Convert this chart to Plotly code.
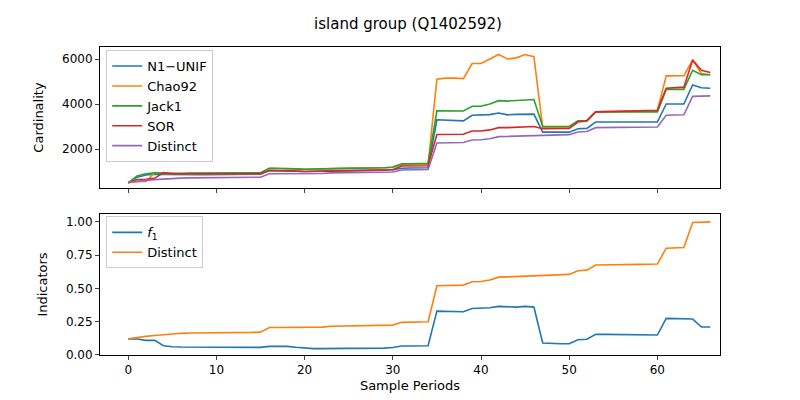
import plotly.graph_objects as go
from plotly.subplots import make_subplots

periods = list(range(67))

n1_unif = [500, 750, 850, 880, 870, 860, 860, 860, 860, 860, 860, 860, 860, 870, 870, 880,
           1050, 1050, 1050, 1020, 1000, 1000, 1000, 1030, 1040, 1040, 1050, 1050, 1060, 1070, 1080,
           1150, 1160, 1160, 1170, 3300, 3290, 3280, 3250, 3500, 3500, 3530, 3600, 3520, 3540, 3560, 3550,
           2750, 2750, 2750, 2750, 2900, 2920, 3200, 3200, 3200, 3200, 3200, 3200, 3200, 3200,
           4000, 4000, 4000, 4850, 4720, 4700]
chao92 = [500, 550, 560, 950, 920, 900, 900, 900, 900, 900, 900, 900, 900, 900, 910, 920,
          1150, 1150, 1150, 1120, 1100, 1100, 1100, 1120, 1130, 1140, 1150, 1150, 1160, 1170, 1180,
          1300, 1310, 1310, 1320, 5100, 5150, 5150, 5130, 5800, 5800, 6000, 6200, 6000, 6050, 6200, 6100,
          2950, 2950, 2950, 2960, 3250, 3260, 3650, 3650, 3660, 3670, 3680, 3690, 3700, 3700,
          5250, 5260, 5260, 5950, 5350, 5300]
jack1 = [500, 800, 900, 950, 920, 910, 920, 930, 930, 930, 930, 930, 930, 940, 940, 950,
         1150, 1150, 1150, 1120, 1100, 1100, 1100, 1130, 1140, 1140, 1150, 1150, 1160, 1170, 1200,
         1350, 1350, 1360, 1370, 3700, 3700, 3700, 3690, 3900, 3900, 4000, 4150, 4130, 4150, 4200, 4200,
         3000, 3000, 3000, 3000, 3250, 3260, 3650, 3650, 3650, 3650, 3650, 3650, 3650, 3650,
         4650, 4650, 4650, 5500, 5300, 5300]
sor = [500, 650, 660, 700, 950, 900, 900, 900, 900, 890, 890, 890, 890, 890, 900, 900,
       1050, 1050, 1050, 1020, 1000, 1000, 1000, 1010, 1020, 1030, 1040, 1050, 1060, 1070, 1080,
       1250, 1250, 1250, 1260, 2650, 2650, 2650, 2660, 2800, 2800, 2850, 2950, 2950, 2960, 3000, 3000,
       2900, 2900, 2900, 2910, 3200, 3250, 3650, 3660, 3670, 3680, 3690, 3700, 3710, 3720,
       4700, 4730, 4750, 5950, 5500, 5400]
distinct = [530, 580, 610, 640, 670, 700, 710, 720, 720, 720, 720, 725, 730, 735, 740, 750,
            900, 900, 900, 905, 910, 910, 915, 940, 945, 950, 955, 960, 965, 970, 980,
            1070, 1080, 1080, 1090, 2270, 2275, 2280, 2290, 2400, 2410, 2460, 2550, 2560, 2570, 2600, 2610,
            2620, 2630, 2630, 2640, 2760, 2780, 2950, 2950, 2955, 2960, 2965, 2970, 2975, 2980,
            3500, 3510, 3520, 4340, 4350, 4360]

f1 = [0.12, 0.12, 0.11, 0.11, 0.07, 0.062, 0.06, 0.06, 0.06, 0.059, 0.058, 0.058, 0.058, 0.058, 0.058, 0.057,
      0.065, 0.065, 0.065, 0.058, 0.052, 0.048, 0.048, 0.05, 0.05, 0.05, 0.05, 0.05, 0.051, 0.052, 0.056,
      0.068, 0.068, 0.068, 0.07, 0.33, 0.33, 0.328, 0.325, 0.35, 0.35, 0.355, 0.365, 0.36, 0.36, 0.365, 0.36,
      0.09, 0.085, 0.085, 0.085, 0.115, 0.118, 0.155, 0.155, 0.155, 0.155, 0.155, 0.155, 0.153, 0.15,
      0.275, 0.275, 0.27, 0.27, 0.21, 0.21]
distinct_ind = [d / distinct[-1] for d in distinct]

colors = ["#1f77b4", "#ff7f0e", "#2ca02c", "#d62728", "#9467bd"]

fig = make_subplots(rows=2, cols=1, shared_xaxes=True, vertical_spacing=0.084)

for name, ys, c in [("N1\u2212UNIF", n1_unif, colors[0]), ("Chao92", chao92, colors[1]),
                    ("Jack1", jack1, colors[2]), ("SOR", sor, colors[3]),
                    ("Distinct", distinct, colors[4])]:
    fig.add_trace(go.Scatter(x=periods, y=ys, name=name, mode="lines",
                             line=dict(color=c, width=1.6), legend="legend"), row=1, col=1)

fig.add_trace(go.Scatter(x=periods, y=f1, name="<i>f</i><sub>1</sub>", mode="lines",
                         line=dict(color=colors[0], width=1.6), legend="legend2"), row=2, col=1)
fig.add_trace(go.Scatter(x=periods, y=distinct_ind, name="Distinct", mode="lines",
                         line=dict(color=colors[1], width=1.6), legend="legend2"), row=2, col=1)

axis_style = dict(showline=True, mirror=True, linecolor="black", linewidth=1, ticks="outside",
                  ticklen=4, showgrid=False, zeroline=False, tickfont=dict(size=12))
fig.update_xaxes(range=[-3.2, 67.1], dtick=10, **axis_style)
fig.update_xaxes(title_text="Sample Periods", title_font=dict(size=13), title_standoff=4, row=2, col=1)
fig.update_yaxes(range=[267, 6533], tickvals=[2000, 4000, 6000], title_text="Cardinality",
                 title_font=dict(size=13), row=1, col=1, **axis_style)
fig.update_yaxes(range=[0, 1.06], tickvals=[0, 0.25, 0.5, 0.75, 1.0], tickformat=".2f",
                 title_text="Indicators", title_font=dict(size=13), row=2, col=1, **axis_style)

leg = dict(x=0.01, xanchor="left", yanchor="top", bordercolor="#cccccc", borderwidth=1,
           bgcolor="rgba(255,255,255,0.8)", font=dict(size=13), tracegroupgap=0)
fig.update_layout(
    width=800, height=400,
    title=dict(text="island group (Q1402592)", x=0.5, y=0.975, xanchor="center", font=dict(size=15)),
    font=dict(family="DejaVu Sans", color="black"),
    plot_bgcolor="white", paper_bgcolor="white",
    margin=dict(l=92, r=88, t=39, b=53),
    legend=dict(y=0.99, **leg),
    legend2=dict(y=0.45, **leg),
)

fig.write_html("out.html")
